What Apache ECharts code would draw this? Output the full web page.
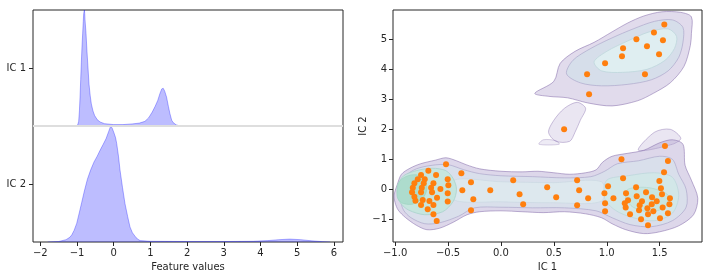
<!DOCTYPE html>
<html><head><meta charset="utf-8">
<script src="https://cdn.jsdelivr.net/npm/echarts@6/dist/echarts.min.js"></script>
<style>html,body{margin:0;padding:0;background:#fff}#c{width:712px;height:280px}</style>
</head><body><div id="c"></div>
<script>
// ---------- DATA ----------
// Left panel: ridge densities (x, normalized density)
const ridgeCategories = ['IC 1', 'IC 2'];
const ridgeXTicks = [-2, -1, 0, 1, 2, 3, 4, 5, 6];
const ic1Density = [[-1.03,0],[-0.98,0.01],[-0.955,0.04],[-0.935,0.13],[-0.918,0.25],[-0.9,0.4],[-0.882,0.55],[-0.865,0.68],[-0.846,0.8],[-0.83,0.9],[-0.818,0.97],[-0.8,1.0],[-0.79,0.97],[-0.783,0.92],[-0.755,0.8],[-0.728,0.64],[-0.7,0.5],[-0.673,0.36],[-0.64,0.26],[-0.61,0.19],[-0.565,0.13],[-0.52,0.09],[-0.45,0.055],[-0.373,0.035],[-0.25,0.02],[0,0.012],[0.25,0.012],[0.5,0.018],[0.7,0.025],[0.85,0.04],[0.95,0.07],[1.05,0.12],[1.13,0.17],[1.2,0.22],[1.26,0.28],[1.31,0.32],[1.35,0.325],[1.39,0.3],[1.44,0.25],[1.49,0.17],[1.53,0.11],[1.58,0.05],[1.62,0.03],[1.7,0.01],[1.78,0.003],[1.85,0]];
const ic2Density = [[-1.8,0],[-1.5,0.004],[-1.3,0.02],[-1.2,0.04],[-1.145,0.06],[-1.08,0.1],[-1.009,0.16],[-0.94,0.25],[-0.873,0.34],[-0.8,0.44],[-0.718,0.54],[-0.63,0.62],[-0.537,0.69],[-0.45,0.74],[-0.373,0.79],[-0.29,0.84],[-0.21,0.89],[-0.14,0.95],[-0.083,1.0],[-0.04,0.98],[0.008,0.94],[0.05,0.9],[0.081,0.85],[0.13,0.74],[0.172,0.62],[0.24,0.47],[0.308,0.33],[0.38,0.22],[0.444,0.13],[0.51,0.08],[0.58,0.05],[0.65,0.025],[0.72,0.012],[1.0,0.006],[2.0,0.004],[3.0,0.004],[3.8,0.006],[4.2,0.012],[4.5,0.02],[4.8,0.025],[5.1,0.02],[5.4,0.01],[5.7,0.003],[5.9,0]];

// Right panel: density contour regions (data coordinates)
const icXTicks = [-1.0, -0.5, 0.0, 0.5, 1.0, 1.5];
const icYTicks = [-1, 0, 1, 2, 3, 4, 5];
const lowerOuter = [[-1.0,-0.45],[-1.01,-0.2],[-0.98,0.15],[-0.94,0.5],[-0.86,0.7],[-0.76,0.85],[-0.62,0.97],[-0.52,1.05],[-0.42,0.95],[-0.33,0.82],[-0.2,0.68],[0,0.6],[0.2,0.58],[0.35,0.6],[0.5,0.55],[0.65,0.5],[0.8,0.55],[0.9,0.65],[0.96,0.9],[1.05,1.1],[1.2,1.2],[1.35,1.3],[1.5,1.55],[1.62,1.65],[1.72,1.5],[1.74,0.8],[1.8,0.3],[1.86,-0.3],[1.82,-0.85],[1.68,-1.22],[1.5,-1.42],[1.35,-1.48],[1.18,-1.35],[1.05,-1.15],[0.95,-0.95],[0.8,-0.82],[0.6,-0.75],[0.4,-0.78],[0.2,-0.75],[0,-0.72],[-0.2,-0.75],[-0.32,-0.85],[-0.45,-1.1],[-0.58,-1.3],[-0.7,-1.35],[-0.8,-1.2],[-0.9,-0.95],[-0.97,-0.7]];
const lowerMid = [[-0.95,-0.35],[-0.96,0.1],[-0.9,0.45],[-0.8,0.68],[-0.65,0.8],[-0.5,0.82],[-0.35,0.65],[-0.2,0.52],[0,0.45],[0.3,0.42],[0.6,0.38],[0.85,0.42],[0.98,0.6],[1.1,0.85],[1.3,0.95],[1.5,1.1],[1.62,1.0],[1.68,0.5],[1.75,0],[1.75,-0.6],[1.62,-1.05],[1.42,-1.25],[1.22,-1.18],[1.05,-0.95],[0.9,-0.72],[0.6,-0.62],[0.3,-0.62],[0,-0.6],[-0.25,-0.62],[-0.4,-0.9],[-0.58,-1.12],[-0.72,-1.15],[-0.85,-0.95],[-0.92,-0.7]];
const lowerCentre = [[-0.45,0.3],[0,0.25],[0.5,0.22],[0.95,0.25],[0.95,-0.4],[0.5,-0.45],[0,-0.42],[-0.45,-0.35]];
const lowerLeftCore = [[-0.97,-0.3],[-0.97,0.15],[-0.92,0.45],[-0.8,0.62],[-0.65,0.7],[-0.52,0.62],[-0.45,0.35],[-0.42,0],[-0.45,-0.4],[-0.55,-0.75],[-0.72,-0.85],[-0.87,-0.7],[-0.94,-0.5]];
const lowerLeftInner = [[-0.98,-0.25],[-0.97,0.2],[-0.9,0.42],[-0.8,0.48],[-0.72,0.3],[-0.7,0],[-0.74,-0.3],[-0.84,-0.5],[-0.94,-0.45]];
const lowerRightCore = [[1.0,0.3],[1.2,0.45],[1.45,0.55],[1.62,0.4],[1.68,-0.2],[1.62,-0.8],[1.45,-1.05],[1.25,-0.95],[1.08,-0.7],[0.98,-0.3]];
const lowerRightInner = [[1.2,0],[1.4,0.05],[1.58,-0.2],[1.55,-0.6],[1.4,-0.75],[1.25,-0.6],[1.18,-0.3]];
const upperOuter = [[0.32,3.2],[0.5,3.6],[0.56,4.2],[0.7,4.6],[0.88,4.9],[1.05,5.25],[1.2,5.55],[1.35,5.78],[1.52,5.92],[1.7,5.9],[1.8,5.75],[1.8,5.2],[1.79,4.8],[1.73,4.1],[1.6,3.55],[1.44,3.2],[1.29,2.95],[1.05,2.78],[0.82,2.88],[0.63,3.05],[0.45,3.1]];
const upperMid = [[0.62,3.85],[0.68,4.3],[0.85,4.7],[1.05,5.05],[1.25,5.35],[1.45,5.6],[1.62,5.65],[1.72,5.4],[1.72,4.9],[1.68,4.4],[1.58,3.95],[1.42,3.65],[1.2,3.5],[0.95,3.45],[0.75,3.55]];
const upperCore = [[0.88,4.25],[1.0,4.6],[1.2,4.95],[1.4,5.25],[1.58,5.35],[1.66,5.1],[1.64,4.7],[1.55,4.3],[1.38,4.0],[1.15,3.9],[0.95,3.95]];
const wispMiddle = [[0.52,1.6],[0.45,1.9],[0.5,2.3],[0.6,2.7],[0.72,2.9],[0.8,2.7],[0.75,2.3],[0.7,1.9],[0.65,1.6]];
const wispRight = [[1.3,1.3],[1.45,1.9],[1.6,2.0],[1.7,1.7],[1.62,1.5]];
const wispLeft = [[0.36,1.5],[0.4,1.65],[0.52,1.62],[0.55,1.5]];

// Right panel: scatter points (IC 1, IC 2)
const scatterPoints = [
 [-0.519,0.833],[-0.686,0.62],[-0.755,0.477],[-0.613,0.477],[-0.374,0.533],[-0.786,0.333],[-0.72,0.33],[-0.503,0.333],[-0.283,0.233],
 [-0.818,0.2],[-0.73,0.2],[-0.638,0.2],[-0.497,0.133],[-0.833,0.053],[-0.748,0.053],[-0.66,0.053],[-0.572,0.01],[-0.365,-0.033],
 [-0.101,-0.033],[-0.84,-0.1],[-0.755,-0.1],[-0.651,-0.1],[-0.604,-0.28],[-0.503,-0.133],[-0.818,-0.247],[-0.739,-0.357],
 [-0.676,-0.39],[-0.503,-0.413],[-0.261,-0.333],[-0.808,-0.38],[-0.755,-0.523],[-0.638,-0.523],[-0.283,-0.7],[-0.692,-0.667],
 [-0.638,-0.833],[-0.607,-1.057],
 [0.116,0.3],[0.176,-0.167],[0.21,-0.5],[0.437,0.067],[0.522,-0.267],[0.72,0.3],[0.739,-0.033],[0.824,-0.3],[0.72,-0.533],
 [1.55,1.44],[1.139,1.0],[1.578,0.943],[1.541,0.567],[1.154,0.367],[1.497,0.277],[1.012,0.1],[1.277,0.067],[1.512,0.033],
 [0.978,-0.133],[1.182,-0.133],[1.371,-0.1],[1.522,-0.167],[1.063,-0.3],[1.283,-0.233],[1.428,-0.267],[1.597,-0.3],
 [1.201,-0.367],[1.333,-0.4],[1.472,-0.4],[0.984,-0.467],[1.17,-0.467],[1.311,-0.533],[1.425,-0.5],[1.592,-0.5],
 [1.179,-0.613],[1.384,-0.633],[1.528,-0.613],[0.984,-0.733],[1.305,-0.7],[1.44,-0.733],[1.22,-0.833],[1.39,-0.833],
 [1.578,-0.8],[1.503,-0.967],[1.324,-1.0],[1.39,-1.2],
 [1.544,5.5],[1.446,5.233],[1.28,5.0],[1.531,4.967],[1.154,4.7],[1.38,4.767],[1.144,4.433],[1.494,4.5],[0.984,4.2],
 [0.814,3.833],[1.361,3.833],[0.833,3.167],[0.597,2.0]
];

// ---------- STYLES ----------
const FONT = 'DejaVu Sans';
const TXT = '#262626';
const contourLayers = [
  {pts: wispLeft, fill: 'rgba(170,155,205,0.2)', stroke: 'rgba(130,105,170,0.3)'},
  {pts: wispMiddle, fill: 'rgba(170,155,205,0.25)', stroke: 'rgba(130,105,170,0.4)'},
  {pts: wispRight, fill: 'rgba(170,155,205,0.25)', stroke: 'rgba(130,105,170,0.4)'},
  {pts: lowerOuter, fill: 'rgba(175,160,205,0.42)', stroke: 'rgba(125,100,165,0.5)'},
  {pts: lowerMid, fill: '#d9dfeb', stroke: 'rgba(160,155,195,0.55)'},
  {pts: lowerCentre, fill: '#dde8ee', stroke: 'rgba(200,215,225,0.6)'},
  {pts: lowerLeftCore, fill: '#c6e5de', stroke: 'rgba(170,210,205,0.8)'},
  {pts: lowerLeftInner, fill: '#addccd', stroke: 'rgba(160,212,195,0.8)'},
  {pts: lowerRightCore, fill: '#d2e7e8', stroke: 'rgba(190,215,220,0.8)'},
  {pts: lowerRightInner, fill: '#c8e5e0', stroke: 'rgba(180,218,210,0.8)'},
  {pts: upperOuter, fill: 'rgba(175,160,205,0.38)', stroke: 'rgba(125,100,165,0.5)'},
  {pts: upperMid, fill: '#d6deea', stroke: 'rgba(160,155,195,0.55)'},
  {pts: upperCore, fill: '#dfeef1', stroke: 'rgba(190,215,220,0.8)'}
];
const ridges = [
  {dens: ic1Density, base: 1},
  {dens: ic2Density, base: 0}
];

// ---------- CHART ----------
const chart = echarts.init(document.getElementById('c'), null, {renderer: 'canvas'});
const minus = v => String(v).replace('-', '\u2212');
function axis(extra, ticks) {
  return Object.assign({
    type: 'value',
    axisLine: {show: false, onZero: false},
    axisTick: {show: true, length: 4, customValues: ticks, lineStyle: {color: TXT, width: 1}},
    splitLine: {show: false},
    nameTextStyle: {color: TXT, fontFamily: FONT, fontSize: 10}
  }, extra);
}

chart.setOption({
  animation: false,
  grid: [
    {left: 33, top: 10, width: 310, height: 232, show: true, borderColor: '#262626', borderWidth: 1, backgroundColor: 'transparent'},
    {left: 393, top: 10, width: 309, height: 232, show: true, borderColor: '#262626', borderWidth: 1, backgroundColor: 'transparent'}
  ],
  xAxis: [
    axis({gridIndex: 0, min: -2.2, max: 6.25,
      name: 'Feature values', nameLocation: 'middle', nameGap: 19,
      axisLabel: {customValues: ridgeXTicks, formatter: v => minus(v), color: TXT, fontFamily: FONT, fontSize: 10, margin: 6}
    }, ridgeXTicks),
    axis({gridIndex: 1, min: -1.02, max: 1.9,
      name: 'IC 1', nameLocation: 'middle', nameGap: 19,
      axisLabel: {customValues: icXTicks, formatter: v => minus(v.toFixed(1)), color: TXT, fontFamily: FONT, fontSize: 10, margin: 6}
    }, icXTicks)
  ],
  yAxis: [
    axis({gridIndex: 0, min: 0, max: 2,
      axisLabel: {customValues: [0.5, 1.5], formatter: v => (v > 1 ? ridgeCategories[0] : ridgeCategories[1]), color: TXT, fontFamily: FONT, fontSize: 10, margin: 7}
    }, [0.5, 1.5]),
    axis({gridIndex: 1, min: -1.76, max: 5.98,
      name: 'IC 2', nameLocation: 'middle', nameGap: 22, nameRotate: 90,
      axisLabel: {customValues: icYTicks, formatter: v => minus(v), color: TXT, fontFamily: FONT, fontSize: 10, margin: 6}
    }, icYTicks)
  ],
  series: [
    {
      type: 'custom', xAxisIndex: 0, yAxisIndex: 0, clip: true, z: 2,
      data: ridges.map(r => [r.dens[0][0], r.base]),
      renderItem: function (params, api) {
        const r = ridges[params.dataIndex];
        const curve = r.dens.map(p => api.coord([p[0], r.base + p[1]]));
        const first = api.coord([r.dens[0][0], r.base]);
        const last = api.coord([r.dens[r.dens.length - 1][0], r.base]);
        return {type: 'group', children: [
          {type: 'polygon', shape: {points: [first].concat(curve, [last])}, style: {fill: 'rgba(0,0,255,0.26)', stroke: null}},
          {type: 'polyline', shape: {points: curve}, style: {fill: null, stroke: 'rgba(0,0,255,0.3)', lineWidth: 1}}
        ]};
      }
    },
    {
      type: 'line', xAxisIndex: 0, yAxisIndex: 0, z: 3, symbol: 'none', silent: true,
      data: [[-2.2, 1], [6.25, 1]],
      lineStyle: {color: '#dedede', width: 2}
    },
    {
      type: 'custom', xAxisIndex: 1, yAxisIndex: 1, clip: true, z: 2,
      data: contourLayers.map(l => l.pts[0]),
      renderItem: function (params, api) {
        const l = contourLayers[params.dataIndex];
        return {type: 'polygon', shape: {points: l.pts.map(p => api.coord(p)), smooth: 0.3},
          style: {fill: l.fill, stroke: l.stroke, lineWidth: 1}};
      }
    },
    {
      type: 'scatter', xAxisIndex: 1, yAxisIndex: 1, z: 5,
      data: scatterPoints, symbolSize: 6,
      itemStyle: {color: '#ff7f0e', opacity: 1}
    }
  ]
});
</script></body></html>
